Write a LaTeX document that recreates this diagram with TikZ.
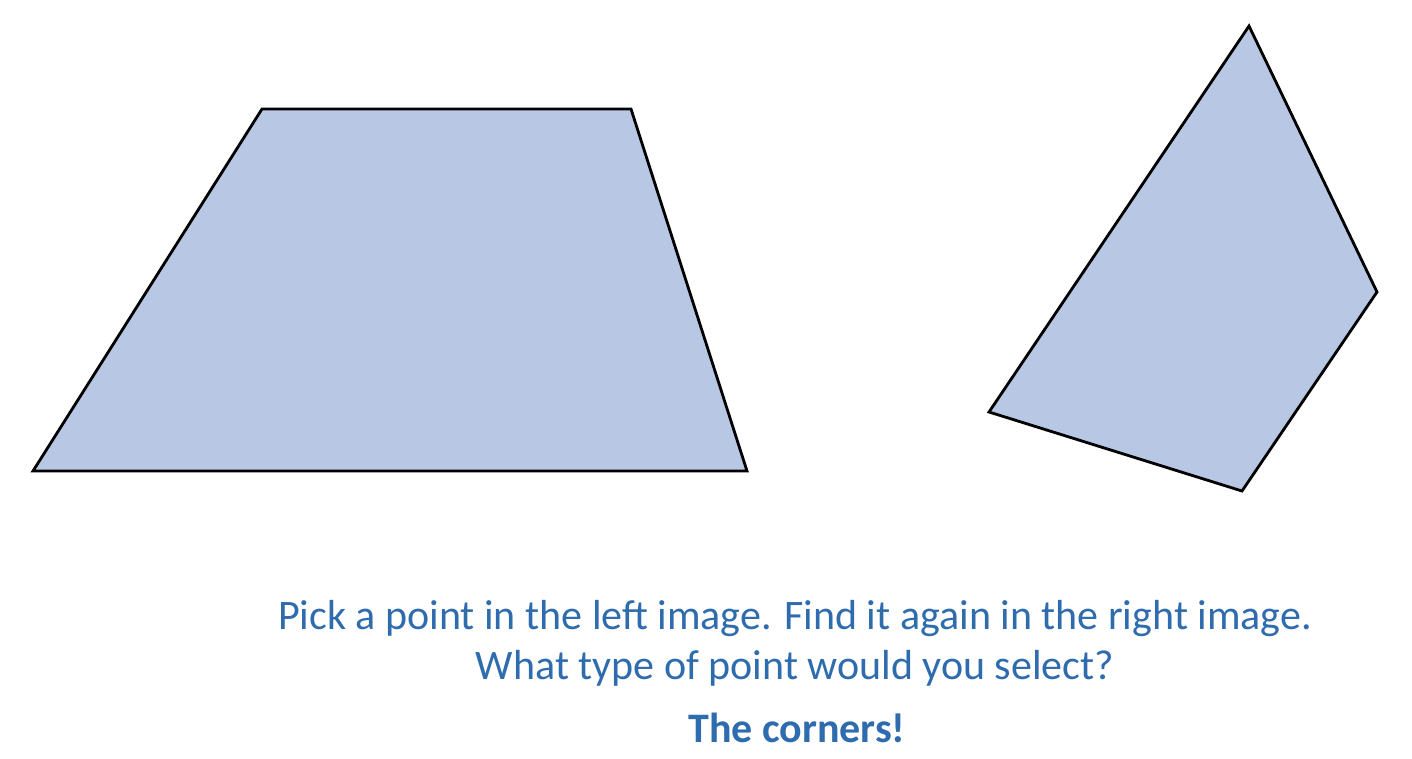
\documentclass[tikz,border=0pt]{standalone}
\usepackage{fontspec}
\setmainfont{Carlito}
\definecolor{shapefill}{HTML}{B8C7E3}
\definecolor{textblue}{HTML}{2E6CAD}
\tikzset{
  polyshape/.style={draw=black, fill=shapefill, line width=2.8pt, line join=miter},
  caption/.style={text=textblue, font=\fontsize{42}{48}\selectfont, inner sep=0pt, anchor=base}
}
\begin{document}
\begin{tikzpicture}[x=1pt,y=-1pt]
\useasboundingbox (0,0) rectangle (1412,758);
\coordinate (a1) at (262,109);
\coordinate (a2) at (631,109);
\coordinate (a3) at (747,471);
\coordinate (a4) at (33,471);
\draw[polyshape] (a1) -- (a2) -- (a3) -- (a4) -- cycle;
\coordinate (b1) at (1249,26);
\coordinate (b2) at (1377,292);
\coordinate (b3) at (1242,491);
\coordinate (b4) at (989,412);
\draw[polyshape] (b1) -- (b2) -- (b3) -- (b4) -- cycle;
\node[caption] (l1) at (795,629) {Pick a point in the left image. Find it again in the right image.};
\node[caption] (l2) at (795,679) {What type of point would you select?};
\node[caption, font=\fontsize{42}{48}\selectfont\bfseries] (l3) at (797,742) {The corners!};
\end{tikzpicture}
\end{document}
